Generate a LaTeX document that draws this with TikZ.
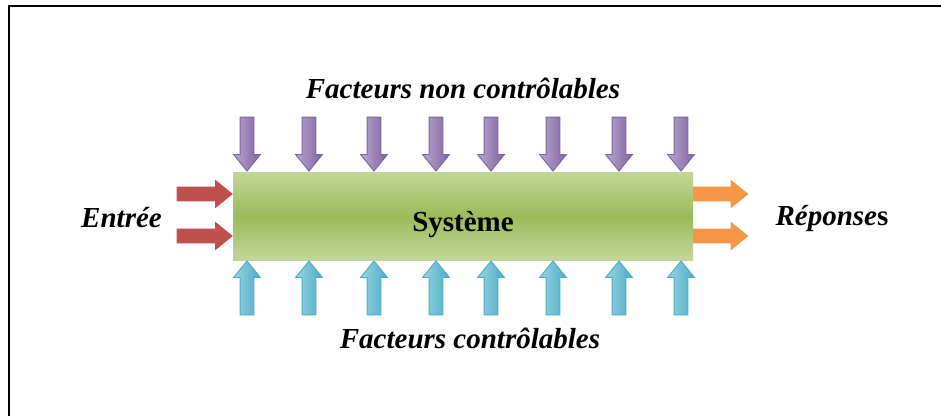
\documentclass[tikz,border=0pt]{standalone}
\usepackage{fontspec}
\setmainfont{Liberation Serif}
\usetikzlibrary{shapes.arrows}

\definecolor{sysgreen}{HTML}{9BBB59}
\definecolor{sysgreenl}{HTML}{C3D69B}
\definecolor{ncpurple}{HTML}{8064A2}
\definecolor{ncpurplel}{HTML}{B7A6CE}
\definecolor{cblue}{HTML}{4BACC6}
\definecolor{cbluel}{HTML}{9AD3E2}
\definecolor{inred}{HTML}{C0504D}
\definecolor{outorange}{HTML}{F79646}

\tikzset{
  blockarrow/.style={single arrow, inner xsep=0pt, inner ysep=6.5pt,
    text height=0pt, text depth=0pt, single arrow head extend=6.5pt,
    single arrow tip angle=78, minimum height=54pt, line width=0.9pt},
  lbl/.style={font=\fontsize{29}{34}\selectfont\bfseries\itshape, anchor=base, inner sep=0pt}
}

\begin{document}
\begin{tikzpicture}[x=1pt,y=1pt]
\useasboundingbox (0,0) rectangle (941,-416);
\draw[line width=2pt] (9,-416) -- (9,-6) -- (941,-6);

\node (sys) [minimum width=460pt, minimum height=88pt, inner sep=0pt,
  top color=sysgreenl, bottom color=sysgreenl, middle color=sysgreen] at (463,-216) {};
\node[font=\fontsize{29}{34}\selectfont\bfseries, anchor=base] (systxt) at (463,-231) {Système};

\foreach \x [count=\i from 1] in {247,309,374,436,491,553,619,681}
{
  \node (nc\i) [blockarrow, rotate=-90, anchor=tip, draw=ncpurple, left color=ncpurplel, right color=ncpurple] at (sys.north -| \x,0) {};
  \node (c\i) [blockarrow, rotate=90, anchor=tip, draw=cblue, left color=cbluel, right color=cblue] at (sys.south -| \x,0) {};
}

\foreach \y [count=\i from 1] in {194,236}
{
  \node (in\i) [blockarrow, minimum height=55pt, anchor=tip, draw=inred, fill=inred] at (sys.west |- 0,-\y) {};
  \node (out\i) [blockarrow, anchor=tail, draw=outorange, fill=outorange] at (sys.east |- 0,-\y) {};
}

\node[lbl] (nclabel) at (463,-98) {Facteurs non contrôlables};
\node[lbl] (clabel) at (470,-348) {Facteurs contrôlables};
\node[lbl] (inlabel) at (121.5,-227) {Entrée};
\node[lbl] (outlabel) at (832,-225) {Réponse\textup{s}};
\end{tikzpicture}
\end{document}
